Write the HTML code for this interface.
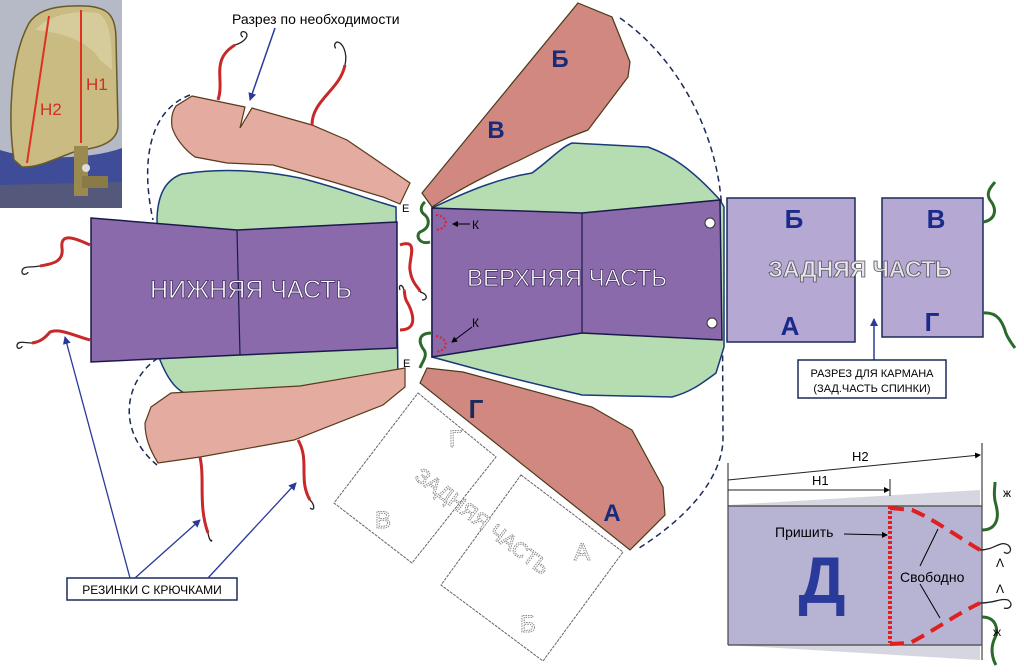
<!DOCTYPE html>
<html><head><meta charset="utf-8"><style>
html,body{margin:0;padding:0;background:#fff;width:1024px;height:672px;overflow:hidden}
svg{display:block}
text{font-family:"Liberation Sans",sans-serif}
</style></head><body>
<svg width="1024" height="672" viewBox="0 0 1024 672" xmlns="http://www.w3.org/2000/svg">
<defs>
<marker id="ab" markerWidth="8" markerHeight="8" refX="7" refY="4" orient="auto" markerUnits="userSpaceOnUse"><path d="M0,0 L8,4 L0,8 z" fill="#2a3a9a"/></marker>
<marker id="ak" markerWidth="6" markerHeight="6" refX="5" refY="3" orient="auto" markerUnits="userSpaceOnUse"><path d="M0,0 L6,3 L0,6 z" fill="#000"/></marker>
</defs>

<!-- Photo -->
<rect x="0" y="0" width="122" height="208" fill="#b6b9c6"/>
<path d="M0,150 C30,160 90,160 122,148 L122,208 L0,208 z" fill="#3f4c98"/>
<path d="M0,185 L122,182 L122,208 L0,208 z" fill="#54597c"/>
<path d="M14,160 C8,120 10,60 28,25 C36,10 55,5 85,6 C108,7 116,15 116,40 L118,125 C118,142 100,148 80,150 C60,156 40,168 22,167 z" fill="#c9bb82" stroke="#6a5a28" stroke-width="1.5"/>
<path d="M35,30 C50,14 75,10 98,13 C110,20 112,40 112,70 L100,60 C90,42 62,32 35,30z" fill="#e0d6aa" opacity="0.6"/>
<rect x="74" y="146" width="14" height="50" fill="#9a8a50"/>
<rect x="82" y="176" width="26" height="12" fill="#8a7a48"/>
<circle cx="86" cy="168" r="4" fill="#ddd"/>
<line x1="49" y1="16" x2="27" y2="163" stroke="#e03020" stroke-width="2"/>
<line x1="81" y1="10" x2="81" y2="143" stroke="#e03020" stroke-width="2"/>
<text x="40" y="115" font-size="17" fill="#d03020">H2</text>
<text x="86" y="90" font-size="17" fill="#d03020">H1</text>

<!-- dashed arcs -->
<path d="M190,95 C150,110 140,160 153,220" fill="none" stroke="#1a2a5a" stroke-width="1.5" stroke-dasharray="6,4"/>
<path d="M158,358 C125,380 115,430 157,465" fill="none" stroke="#1a2a5a" stroke-width="1.5" stroke-dasharray="6,4"/>
<path d="M620,18 C680,60 722,140 722,220 L723,440 C722,470 700,510 636,550" fill="none" stroke="#1a2a5a" stroke-width="1.5" stroke-dasharray="6,4"/>

<!-- left green -->
<path d="M157,218 C158,195 165,180 182,174 C220,168 260,170 300,178 C340,188 370,200 396,207 L398,385 C370,385 340,392 311,396 C270,400 230,402 200,398 C180,395 170,385 160,360 z" fill="#b6dcb2" stroke="#1a3a7a" stroke-width="1.5"/>
<!-- top left pink -->
<path d="M192,96 L245,107 L240,128 L252,108 L312,125 L347,140 L410,183 L400,204 L383,197 L333,182 L273,165 L227,163 L195,157 C185,150 175,138 172,127 C171,118 172,112 176,106 z" fill="#e4aba1" stroke="#5a3a1a" stroke-width="1.2"/>
<!-- bottom left pink -->
<path d="M151,407 L171,393 L300,386 L405,368 L405,387 L383,405 L294,440 L200,457 L158,463 C150,450 145,438 145,423 z" fill="#e4aba1" stroke="#5a3a1a" stroke-width="1.2"/>
<!-- НИЖНЯЯ purple -->
<path d="M91,218 L237,230 L397,222 L397,348 L240,355 L91,362 z" fill="#8a6aaa" stroke="#1a1a4a" stroke-width="1.5"/>
<line x1="237" y1="230" x2="240" y2="355" stroke="#1a1a4a" stroke-width="1.2"/>
<text x="251" y="298" font-size="25" fill="#fff" stroke="#3a2a5a" stroke-width="0.7" text-anchor="middle">НИЖНЯЯ ЧАСТЬ</text>

<!-- right green -->
<path d="M432,208 C470,190 500,178 532,173 C550,160 560,148 572,143 L648,147 C670,155 690,167 720,200 L724,207 L724,347 L716,373 C700,385 690,392 672,397 L582,395 C540,385 510,378 480,370 L432,357 z" fill="#b6dcb2" stroke="#1a3a7a" stroke-width="1.5"/>
<!-- top right pink -->
<path d="M578,3 L612,17 L630,62 L628,77 L588,130 C560,140 540,150 520,160 C480,178 455,192 432,207 L422,193 z" fill="#d08880" stroke="#4a3a1a" stroke-width="1.2"/>
<text x="560" y="67" font-size="24" font-weight="bold" fill="#1a2a7a" text-anchor="middle">Б</text>
<text x="496" y="138" font-size="24" font-weight="bold" fill="#1a2a7a" text-anchor="middle">В</text>
<!-- Г pink -->
<path d="M420,383 L427,368 L463,372 L592,407 L632,430 L663,487 L665,515 L630,550 z" fill="#d08880" stroke="#4a3a1a" stroke-width="1.2"/>
<text x="476" y="418" font-size="26" font-weight="bold" fill="#1a2a5a" text-anchor="middle">Г</text>
<text x="612" y="521" font-size="24" font-weight="bold" fill="#1a2a7a" text-anchor="middle">А</text>

<!-- ВЕРХНЯЯ purple -->
<path d="M432,208 L582,213 L720,200 L722,340 L582,333 L432,357 z" fill="#8a6aaa" stroke="#1a1a4a" stroke-width="1.5"/>
<line x1="582" y1="213" x2="582" y2="333" stroke="#1a1a4a" stroke-width="1.2"/>
<circle cx="710" cy="223" r="5" fill="#fff" stroke="#333"/>
<circle cx="712" cy="323" r="5" fill="#fff" stroke="#333"/>
<text x="567" y="286" font-size="24" fill="#fff" stroke="#3a2a5a" stroke-width="0.7" text-anchor="middle">ВЕРХНЯЯ ЧАСТЬ</text>
<path d="M436,215 C448,216 450,228 436,230" fill="none" stroke="#e02020" stroke-width="2" stroke-dasharray="2,2"/>
<path d="M436,336 C448,338 450,350 436,352" fill="none" stroke="#e02020" stroke-width="2" stroke-dasharray="2,2"/>
<line x1="470" y1="224" x2="453" y2="224" stroke="#000" marker-end="url(#ak)"/>
<text x="472" y="229" font-size="12">К</text>
<line x1="472" y1="327" x2="452" y2="342" stroke="#000" marker-end="url(#ak)"/>
<text x="472" y="327" font-size="12">К</text>

<!-- white rotated panels -->
<g fill="none" stroke="#666" stroke-width="1" stroke-dasharray="3,1">
<path d="M418,393 L496,457 L412,563 L334,503 z"/>
<path d="M521,475 L623,552 L543,661 L441,585 z"/>
</g>
<g fill="#fff" stroke="#888" stroke-width="1" font-size="24" stroke-dasharray="1.5,1">
<text transform="translate(449,447)">Г</text>
<text transform="translate(375,528)">В</text>
<text transform="translate(574,560)">А</text>
<text transform="translate(520,632)">Б</text>
<text transform="translate(478,527) rotate(37)" text-anchor="middle" font-size="21">ЗАДНЯЯ ЧАСТЬ</text>
</g>

<!-- right boxes -->
<rect x="727" y="198" width="128" height="144" fill="#b5a9d3" stroke="#1a2a5a" stroke-width="1.5"/>
<rect x="882" y="198" width="101" height="139" fill="#b5a9d3" stroke="#1a2a5a" stroke-width="1.5"/>
<text x="794" y="228" font-size="26" font-weight="bold" fill="#1a2a8a" text-anchor="middle">Б</text>
<text x="790" y="335" font-size="26" font-weight="bold" fill="#1a2a8a" text-anchor="middle">А</text>
<text x="936" y="228" font-size="26" font-weight="bold" fill="#1a2a8a" text-anchor="middle">В</text>
<text x="932" y="331" font-size="26" font-weight="bold" fill="#1a2a8a" text-anchor="middle">Г</text>
<text x="860" y="277" font-size="23" font-weight="bold" fill="#e8e4f0" stroke="#555" stroke-width="0.8" text-anchor="middle">ЗАДНЯЯ ЧАСТЬ</text>
<line x1="874" y1="360" x2="874" y2="319" stroke="#2a3a9a" stroke-width="1.5" marker-end="url(#ab)"/>
<rect x="798" y="360" width="148" height="38" fill="#fff" stroke="#1a2a5a" stroke-width="1.5"/>
<text x="872" y="377" font-size="11" text-anchor="middle">РАЗРЕЗ ДЛЯ КАРМАНА</text>
<text x="872" y="392" font-size="11" text-anchor="middle">(ЗАД.ЧАСТЬ СПИНКИ)</text>

<!-- elastics red -->
<g fill="none" stroke="#c82828" stroke-width="3">
<path d="M90,245 C75,238 60,232 62,248 C64,262 52,264 40,266"/>
<path d="M90,340 C75,336 60,328 50,332 C45,338 40,342 32,343"/>
<path d="M218,100 C225,80 210,60 235,45"/>
<path d="M312,125 C312,100 340,90 345,65"/>
<path d="M400,245 C420,238 408,260 410,270 C412,285 420,288 420,292"/>
<path d="M400,330 C420,330 412,310 406,300 C404,295 405,292 404,290"/>
<path d="M200,457 C205,480 198,505 208,533"/>
<path d="M298,440 C310,460 298,480 310,500"/>
</g>
<g fill="none" stroke="#222" stroke-width="1.3">
<path d="M40,266 C30,268 22,265 22,272 C22,276 28,274 28,272"/>
<path d="M32,343 C25,343 17,340 17,346 C17,350 22,348 22,346"/>
<path d="M235,45 C245,42 250,35 245,32 C240,30 240,36 243,37"/>
<path d="M345,65 C348,52 342,42 337,42 C333,44 335,48 336,48"/>
<path d="M420,292 C428,294 428,300 422,300"/>
<path d="M404,290 C402,283 398,285 400,290"/>
<path d="M208,533 C210,545 214,540 210,540"/>
<path d="M310,500 C315,505 315,512 310,508"/>
</g>
<!-- green hooks -->
<g fill="none" stroke="#2a6a2a" stroke-width="3">
<path d="M425,202 C420,206 420,212 425,215 C430,220 430,228 420,232 C415,236 420,245 430,242"/>
<path d="M432,333 C418,333 418,342 424,350 C428,356 422,362 420,368"/>
<path d="M983,222 C995,220 998,210 990,200 C985,192 992,186 995,182"/>
<path d="M983,313 C998,312 1002,322 1005,330 C1006,336 1012,344 1015,348"/>
<path d="M982,530 C995,530 1000,520 996,505 C993,495 995,488 995,482"/>
<path d="M982,617 C995,617 1000,628 994,640 C990,650 993,660 996,665"/>
</g>
<text x="402" y="212" font-size="11">Е</text>
<text x="403" y="367" font-size="11">Е</text>

<!-- top label -->
<text x="232" y="24" font-size="14">Разрез по необходимости</text>
<line x1="275" y1="28" x2="250" y2="100" stroke="#2a3a9a" stroke-width="1.5" marker-end="url(#ab)"/>

<!-- резинки -->
<rect x="67" y="578" width="170" height="22" fill="#fff" stroke="#1a2a5a" stroke-width="1.5"/>
<text x="152" y="594" font-size="12" text-anchor="middle">РЕЗИНКИ С КРЮЧКАМИ</text>
<g stroke="#2a3a9a" stroke-width="1.3" fill="none">
<line x1="130" y1="578" x2="65" y2="337" marker-end="url(#ab)"/>
<line x1="135" y1="578" x2="200" y2="520" marker-end="url(#ab)"/>
<line x1="208" y1="578" x2="296" y2="483" marker-end="url(#ab)"/>
</g>

<!-- bottom right panel -->
<path d="M728,505 L980,490 L980,660 L728,645 z" fill="#d6d6e0"/>
<rect x="728" y="506" width="254" height="139" fill="#b7b3d2"/>
<line x1="728" y1="506" x2="982" y2="506" stroke="#444" stroke-width="1.2"/>
<line x1="728" y1="645" x2="982" y2="645" stroke="#444" stroke-width="1.2"/>
<line x1="728" y1="463" x2="728" y2="645" stroke="#444" stroke-width="1.2"/>
<line x1="982" y1="443" x2="982" y2="660" stroke="#444" stroke-width="1.2"/>
<line x1="728" y1="480" x2="980" y2="455" stroke="#222" stroke-width="1" marker-end="url(#ak)"/>
<line x1="728" y1="490" x2="889" y2="490" stroke="#222" stroke-width="1" marker-end="url(#ak)"/>
<line x1="890" y1="479" x2="890" y2="496" stroke="#222"/>
<text x="852" y="461" font-size="13">H2</text>
<text x="812" y="485" font-size="13">H1</text>
<line x1="890" y1="506" x2="890" y2="643" stroke="#e02020" stroke-width="4" stroke-dasharray="3,2"/>
<path d="M890,508 L912,510 C935,520 955,535 980,550" fill="none" stroke="#e02020" stroke-width="4" stroke-dasharray="14,8"/>
<path d="M890,644 L910,643 C935,630 955,615 980,603" fill="none" stroke="#e02020" stroke-width="4" stroke-dasharray="14,8"/>
<text x="775" y="537" font-size="14">Пришить</text>
<line x1="844" y1="534" x2="887" y2="535" stroke="#000" marker-end="url(#ak)"/>
<text x="822" y="603" font-size="66" font-weight="bold" fill="#2a3a9a" text-anchor="middle">Д</text>
<text x="900" y="582" font-size="14">Свободно</text>
<line x1="920" y1="566" x2="938" y2="529" stroke="#000"/>
<line x1="920" y1="584" x2="940" y2="618" stroke="#000"/>
<text x="1003" y="497" font-size="12">ж</text>
<text x="993" y="636" font-size="12">ж</text>
<text x="996" y="567" font-size="12">Λ</text>
<text x="996" y="593" font-size="12">Λ</text>
<path d="M980,550 C995,550 1000,540 1008,545 C1014,550 1008,556 1004,552" fill="none" stroke="#222" stroke-width="1.3"/>
<path d="M980,603 C995,603 1000,598 1008,600 C1014,604 1010,610 1004,608" fill="none" stroke="#222" stroke-width="1.3"/>
</svg>
</body></html>
